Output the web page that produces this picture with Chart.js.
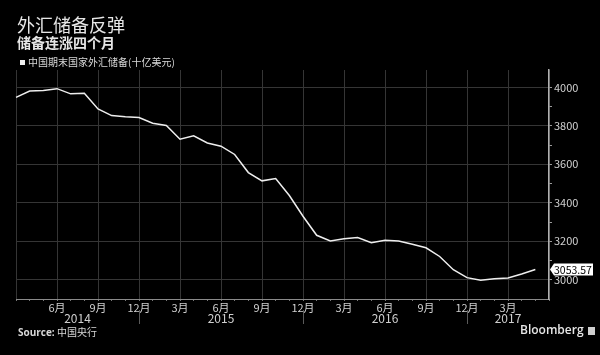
<!DOCTYPE html>
<html><head><meta charset="utf-8">
<script src="https://cdn.jsdelivr.net/npm/chart.js@4"></script>
<style>
html,body{margin:0;padding:0;background:#000;width:600px;height:355px;overflow:hidden;font-family:"Noto Sans CJK SC","Noto Sans",sans-serif;}
#wrap{position:relative;width:600px;height:355px;}
canvas{position:absolute;left:0;top:0;}
.t{position:absolute;color:#e6e6e6;white-space:nowrap;line-height:1;}
</style></head><body>
<div id="wrap">
<canvas id="c" width="600" height="355"></canvas>
<div class="t" id="title" style="left:17px;top:15px;font-size:18px;">外汇储备反弹</div>
<div class="t" id="subtitle" style="left:17px;top:35px;font-size:14px;font-weight:bold;">储备连涨四个月</div>
<div class="t" id="legend" style="left:20px;top:57px;font-size:10px;color:#d8d8d8;"><span style="display:inline-block;width:5px;height:5px;background:#f0f0f0;margin-right:3px;vertical-align:1px;"></span><span id="legtext"></span></div>
<div class="t" id="source" style="left:18px;top:327px;font-size:10px;color:#d8d8d8;"><b style="font-family:'Open Sans','Noto Sans',sans-serif;">Source:</b> 中国央行</div>
<div class="t" id="brand" style="left:520px;top:324px;font-size:12px;color:#e6e6e6;font-weight:600;font-family:'Open Sans','Noto Sans',sans-serif;">Bloomberg <span style="display:inline-block;width:7px;height:8px;background:#cfcfcf;vertical-align:-1px;margin-left:1px;"></span></div>
</div>
<script>
// Month categories: March 2014 .. June 2017
const monthLabels = [
 '3月','4月','5月','6月','7月','8月','9月','10月','11月','12月',
 '1月','2月','3月','4月','5月','6月','7月','8月','9月','10月','11月','12月',
 '1月','2月','3月','4月','5月','6月','7月','8月','9月','10月','11月','12月',
 '1月','2月','3月','4月','5月','6月'
];
// China FX reserves at month end (billion USD), Mar 2014 .. May 2017
const reserves = [
 3948, 3981, 3984, 3993, 3966, 3969, 3888, 3853, 3847, 3843,
 3813, 3802, 3730, 3748, 3711, 3694, 3651, 3557, 3514, 3526, 3438, 3330,
 3231, 3202, 3213, 3219, 3192, 3205, 3201, 3185, 3166, 3121, 3052, 3011,
 2998, 3005, 3009, 3030, 3053.57
];
const seriesLabel = '中国期末国家外汇储备(十亿美元)';
const lastValueText = '3053.57';
// Year labels: text, start index, end index (category positions)
const yearLabels = ['2014','2015','2016','2017'];
const yearStarts = [0, 9, 21, 33];
const yearEnds = [9, 21, 33, 39];
const yearSeparators = [9, 21, 33];
// y ticks: all minor tick positions, and the labelled ones
const yTickValues = [2900, 3000, 3100, 3200, 3300, 3400, 3500, 3600, 3700, 3800, 3900, 4000];
const yTickLabels = [3000, 3200, 3400, 3600, 3800, 4000];

document.getElementById('legtext').textContent = seriesLabel;

const FONT = '"Noto Sans CJK SC","Noto Sans",sans-serif';
Chart.defaults.font.family = FONT;

const extras = {
  id: 'extras',
  afterDraw(chart) {
    const ctx = chart.ctx;
    const xs = chart.scales.x, ys = chart.scales.y;
    ctx.save();
    ctx.strokeStyle = '#5a5a5a';
    ctx.lineWidth = 1;
    yearSeparators.forEach(i => {
      const x = Math.round(xs.getPixelForValue(i)) + 0.5;
      ctx.beginPath(); ctx.moveTo(x, 310); ctx.lineTo(x, 324); ctx.stroke();
    });
    ctx.fillStyle = '#d0d0d0';
    ctx.font = '12px ' + FONT;
    ctx.textAlign = 'center';
    ctx.textBaseline = 'middle';
    yearLabels.forEach((t, k) => {
      const x = xs.getPixelForValue((yearStarts[k] + yearEnds[k]) / 2);
      ctx.fillText(t, x, 318);
    });
    const lastVal = reserves[reserves.length - 1];
    const y = ys.getPixelForValue(lastVal);
    const x0 = chart.chartArea.right + 1;
    ctx.fillStyle = '#ffffff';
    ctx.beginPath();
    ctx.moveTo(x0, y);
    ctx.lineTo(x0 + 4, y - 6);
    ctx.lineTo(593, y - 6);
    ctx.lineTo(593, y + 6);
    ctx.lineTo(x0 + 4, y + 6);
    ctx.closePath();
    ctx.fill();
    ctx.fillStyle = '#000';
    ctx.font = '10.5px ' + FONT;
    ctx.textAlign = 'left';
    ctx.fillText(lastValueText, x0 + 4, y + 0.5);
    ctx.restore();
  }
};

new Chart(document.getElementById('c'), {
  type: 'line',
  data: {
    labels: monthLabels,
    datasets: [{
      label: seriesLabel,
      data: reserves,
      borderColor: '#eeeeee',
      borderWidth: 1.5,
      pointRadius: 0,
      tension: 0,
      fill: false
    }]
  },
  options: {
    responsive: false,
    animation: false,
    layout: { padding: { left: 16, right: 0, top: 70, bottom: 0 } },
    plugins: { legend: { display: false }, tooltip: { enabled: false }, title: { display: false } },
    scales: {
      x: {
        type: 'category',
        offset: false,
        afterFit: s => { s.height = 56; },
        border: { display: true, color: '#8a8a8a', width: 1 },
        grid: {
          drawOnChartArea: true,
          color: c => (c.index % 3 === 0 ? '#353535' : 'rgba(0,0,0,0)'),
          tickColor: '#777',
          tickLength: 2,
          lineWidth: 1
        },
        ticks: {
          autoSkip: false,
          maxRotation: 0,
          padding: 0,
          color: '#d0d0d0',
          font: { size: 11 },
          callback: (v, i) => (i % 3 === 0 && i > 0 && i < monthLabels.length - 1 ? monthLabels[i] : '')
        }
      },
      y: {
        position: 'right',
        min: 2900,
        max: 4090,
        afterFit: s => { s.width = 51; },
        afterBuildTicks: s => { s.ticks = yTickValues.map(v => ({ value: v })); },
        border: { display: true, color: '#b0b0b0', width: 1.5 },
        grid: {
          color: c => (c.tick && yTickLabels.includes(c.tick.value) ? '#353535' : 'rgba(0,0,0,0)'),
          tickColor: c => (c.tick && c.tick.value > 2900 ? '#999' : 'rgba(0,0,0,0)'),
          tickLength: 3,
          lineWidth: 1
        },
        ticks: {
          autoSkip: false,
          padding: 2,
          color: '#d0d0d0',
          font: { size: 11 },
          callback: v => (yTickLabels.includes(v) ? String(v) : '')
        }
      }
    }
  },
  plugins: [extras]
});
</script>
</body></html>
